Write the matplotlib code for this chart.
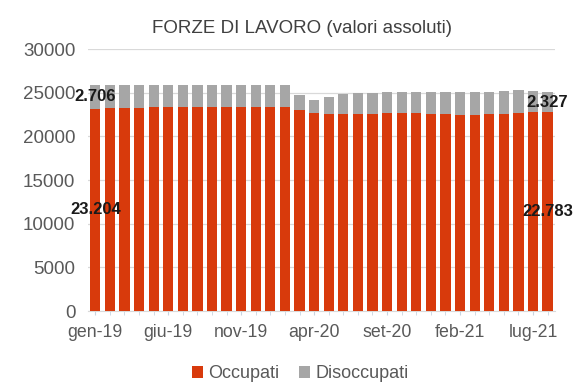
import matplotlib.pyplot as plt
from matplotlib import font_manager

mesi = ["gen-19", "feb-19", "mar-19", "apr-19", "mag-19", "giu-19", "lug-19", "ago-19",
        "set-19", "ott-19", "nov-19", "dic-19", "gen-20", "feb-20", "mar-20", "apr-20",
        "mag-20", "giu-20", "lug-20", "ago-20", "set-20", "ott-20", "nov-20", "dic-20",
        "gen-21", "feb-21", "mar-21", "apr-21", "mag-21", "giu-21", "lug-21", "ago-21"]

# migliaia di persone
occupati = [23204, 23230, 23280, 23290, 23330, 23350, 23360, 23340,
            23350, 23360, 23370, 23340, 23380, 23350, 23060, 22720,
            22600, 22550, 22580, 22620, 22700, 22700, 22680, 22620,
            22540, 22480, 22500, 22540, 22620, 22720, 22760, 22783]
disoccupati = [2706, 2680, 2640, 2630, 2590, 2570, 2560, 2590,
               2580, 2570, 2560, 2580, 2560, 2600, 1650, 1500,
               1920, 2350, 2400, 2360, 2400, 2420, 2430, 2480,
               2510, 2560, 2560, 2570, 2580, 2560, 2420, 2327]

rosso = "#d83a0c"
grigio = "#a6a6a6"

names = {f.name for f in font_manager.fontManager.ttflist}
narrow = "Liberation Sans Narrow" if "Liberation Sans Narrow" in names else "Liberation Sans"
plt.rcParams["font.family"] = [narrow, "DejaVu Sans"]

fig = plt.figure(figsize=(5.75, 3.87), dpi=100)
ax = fig.add_axes([0.153, 0.196, 0.812, 0.677])

x = list(range(len(mesi)))
b1 = ax.bar(x, occupati, width=0.7, color=rosso, label="Occupati", zorder=3)
b2 = ax.bar(x, disoccupati, width=0.7, bottom=occupati, color=grigio,
            label="Disoccupati", zorder=3)

def fmt(v):
    return f"{v:,}".replace(",", ".")

# etichette solo sul primo e sull'ultimo mese
for i in (0, len(mesi) - 1):
    ax.text(x[i], occupati[i] / 2, fmt(occupati[i]), ha="center", va="center",
            fontsize=12, fontweight="bold", color="#1a1a1a", zorder=5)
    ax.text(x[i], occupati[i] + disoccupati[i] / 2, fmt(disoccupati[i]),
            ha="center", va="center", fontsize=12, fontweight="bold",
            color="#1a1a1a", zorder=5)

ax.set_xlim(-0.5, len(mesi) - 0.5)
ax.set_ylim(0, 30000)
ax.set_yticks(range(0, 30001, 5000))
ax.yaxis.grid(True, color="#d9d9d9", linewidth=0.9, zorder=0)
ax.set_axisbelow(True)

ax.set_xticks(x, minor=True)
ax.set_xticks(x[::5])
ax.set_xticklabels(mesi[::5])
ax.tick_params(axis="x", which="both", length=3, color="#c8d4e0", pad=6)
ax.tick_params(axis="y", length=0, pad=9)
ax.tick_params(axis="x", labelsize=12.8, labelcolor="#595959")
ax.tick_params(axis="y", labelsize=13.5, labelcolor="#595959")

for s in ("top", "right", "left"):
    ax.spines[s].set_visible(False)
ax.spines["bottom"].set_color("#d9d9d9")

fig.text(0.525, 0.927, "FORZE DI LAVORO (valori assoluti)", ha="center", va="center",
         fontsize=13.5, color="#404040")

fig.legend(handles=[b1, b2], loc="lower center", bbox_to_anchor=(0.522, -0.03),
           ncol=2, frameon=False, fontsize=13, labelcolor="#595959",
           handlelength=0.6, handleheight=0.6, handletextpad=0.3, columnspacing=1.1)

fig.savefig("out.png", dpi=100)
